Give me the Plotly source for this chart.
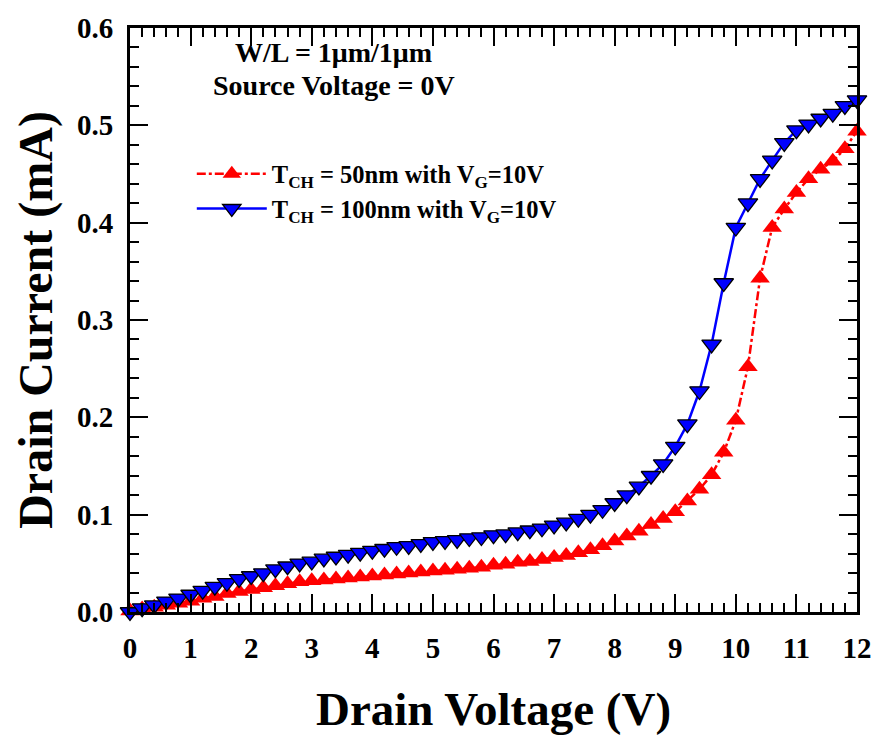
import plotly.graph_objects as go

vd = [round(i * 0.2, 1) for i in range(61)]

id_100nm = [0.000, 0.004, 0.007, 0.011, 0.014, 0.018, 0.022, 0.026, 0.030, 0.034,
            0.037, 0.040, 0.044, 0.047, 0.050, 0.052, 0.055, 0.057, 0.059, 0.061,
            0.063, 0.065, 0.067, 0.068, 0.070, 0.072, 0.073, 0.074, 0.076, 0.077,
            0.079, 0.080, 0.082, 0.084, 0.086, 0.089, 0.092, 0.096, 0.100, 0.105,
            0.112, 0.120, 0.129, 0.140, 0.152, 0.170, 0.193, 0.227, 0.275, 0.338,
            0.395, 0.420, 0.445, 0.464, 0.482, 0.495, 0.501, 0.507, 0.512, 0.520,
            0.526]

id_50nm = [0.001, 0.003, 0.005, 0.007, 0.009, 0.011, 0.014, 0.016, 0.019, 0.021,
           0.023, 0.025, 0.027, 0.029, 0.031, 0.032, 0.033, 0.034, 0.035, 0.036,
           0.037, 0.038, 0.039, 0.040, 0.041, 0.042, 0.043, 0.044, 0.045, 0.046,
           0.048, 0.049, 0.051, 0.052, 0.054, 0.056, 0.058, 0.061, 0.064, 0.068,
           0.073, 0.078, 0.083, 0.090, 0.096, 0.103, 0.114, 0.126, 0.141, 0.164,
           0.197, 0.252, 0.343, 0.395, 0.414, 0.431, 0.445, 0.455, 0.463, 0.476,
           0.494]

x_ticks = list(range(0, 13))
y_ticks = [0.0, 0.1, 0.2, 0.3, 0.4, 0.5, 0.6]
y_tick_labels = ["0.0", "0.1", "0.2", "0.3", "0.4", "0.5", "0.6"]

FONT = "Liberation Serif"

fig = go.Figure()
fig.add_trace(go.Scatter(
    x=vd, y=id_50nm, mode="lines+markers",
    name="T<sub>CH</sub> = 50nm with V<sub>G</sub>=10V",
    line=dict(color="#ff0000", width=2.5, dash="dashdot"),
    marker=dict(symbol="triangle-up", size=17, color="#ff0000",
                line=dict(color="#ff0000", width=0)),
    cliponaxis=False,
))
fig.add_trace(go.Scatter(
    x=vd, y=id_100nm, mode="lines+markers",
    name="T<sub>CH</sub> = 100nm with V<sub>G</sub>=10V",
    line=dict(color="#0000ff", width=2.5),
    marker=dict(symbol="triangle-down", size=17, color="#0000ff",
                line=dict(color="black", width=1.3)),
    cliponaxis=False,
))

axis_common = dict(
    showline=True, linecolor="black", linewidth=3, mirror="allticks",
    ticks="inside", ticklen=18, tickwidth=2, tickcolor="black",
    showgrid=False, zeroline=False,
    tickfont=dict(family=FONT, size=29, color="black", weight="bold"),
)

fig.update_xaxes(
    range=[0, 12], tickvals=x_ticks, ticktext=[str(v) for v in x_ticks],
    title=dict(text="<b>Drain Voltage (V)</b>", font=dict(family=FONT, size=47, color="black"), standoff=30),
    minor=dict(ticks="inside", ticklen=9, tickwidth=1.5, tickcolor="black", dtick=0.2),
    ticklabelstandoff=8,
    **axis_common,
)
fig.update_yaxes(
    range=[0, 0.6], tickvals=y_ticks, ticktext=y_tick_labels,
    title=dict(text="<b>Drain Current (mA)</b>", font=dict(family=FONT, size=48, color="black"), standoff=10),
    minor=dict(ticks="inside", ticklen=9, tickwidth=1.5, tickcolor="black", dtick=0.02),
    ticklabelstandoff=8,
    **axis_common,
)

fig.add_annotation(text="<b>W/L = 1μm/1μm</b>", xref="paper", yref="paper",
                   x=0.28, y=0.958, xanchor="center", yanchor="middle", showarrow=False,
                   font=dict(family=FONT, size=28, color="black"))
fig.add_annotation(text="<b>Source Voltage = 0V</b>", xref="paper", yref="paper",
                   x=0.28, y=0.902, xanchor="center", yanchor="middle", showarrow=False,
                   font=dict(family=FONT, size=28, color="black"))

fig.update_layout(
    width=884, height=740,
    margin=dict(l=130, r=21, t=20, b=128),
    paper_bgcolor="white", plot_bgcolor="white",
    showlegend=True,
    legend=dict(x=0.085, y=0.789, xanchor="left", yanchor="top",
                bgcolor="rgba(0,0,0,0)",
                font=dict(family=FONT, size=24.5, color="black", weight="bold"),
                itemwidth=70, tracegroupgap=6),
)

fig.write_html("out.html")
